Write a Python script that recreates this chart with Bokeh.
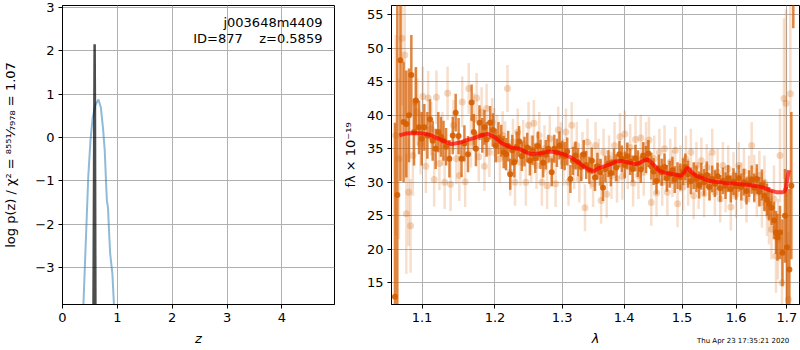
import numpy as np
from bokeh.plotting import figure
from bokeh.layouts import row, column
from bokeh.models import ColumnDataSource, FixedTicker, PrintfTickFormatter, Label, Range1d, Div
from bokeh.embed import file_html
from bokeh.resources import INLINE

FONT = "DejaVu Sans"

# ---------------- left panel: log p(z) ----------------
z_ticks = [0, 1, 2, 3, 4]
logp_ticks = [-3, -2, -1, 0, 1, 2, 3]

z_coarse = [0.38, 0.41, 0.44, 0.47, 0.51, 0.55, 0.60, 0.655, 0.70, 0.74, 0.77, 0.80, 0.81, 0.83, 0.85, 0.87, 0.91, 0.94]
logp_coarse = [-3.9, -2.9, -1.9, -0.9, -0.07, 0.45, 0.75, 0.875, 0.69, 0.2, -0.3, -1.2, -1.46, -1.62, -2.2, -2.68, -3.14, -3.9]

z_fine = [0.565, 0.580, 0.586, 0.592, 0.600]
logp_fine = [-3.9, 0.5, 2.15, 0.5, -3.9]

obj_name = "j003648m4409"
obj_info = "ID=877\u00a0\u00a0\u00a0\u00a0z=0.5859"

# ---------------- right panel: spectrum ----------------
lam_ticks = [1.1, 1.2, 1.3, 1.4, 1.5, 1.6, 1.7]
flux_ticks = [15, 20, 25, 30, 35, 40, 45, 50, 55]

wave_a = [1.065, 1.068, 1.072, 1.076, 1.0795, 1.083, 1.086, 1.0895, 1.092, 1.096, 1.0995, 1.103, 1.107, 1.1105,
          1.114, 1.118, 1.1215, 1.125, 1.1285, 1.132, 1.1365, 1.141, 1.145, 1.149, 1.153, 1.157, 1.162, 1.167,
          1.170, 1.173, 1.178, 1.182, 1.185, 1.188, 1.193, 1.197, 1.201, 1.205, 1.209, 1.2125, 1.216, 1.219,
          1.222, 1.225, 1.228, 1.2315, 1.235, 1.239, 1.243, 1.247, 1.251, 1.255, 1.259, 1.263, 1.267, 1.271,
          1.275, 1.279, 1.284, 1.288, 1.292, 1.296, 1.300, 1.304, 1.308, 1.313, 1.317, 1.321, 1.325, 1.330,
          1.334, 1.338, 1.343, 1.347, 1.352, 1.356, 1.361, 1.365, 1.369, 1.374, 1.378, 1.383, 1.387, 1.392,
          1.396, 1.401, 1.405, 1.410, 1.414, 1.419, 1.423, 1.428, 1.432, 1.437, 1.441, 1.446, 1.450, 1.455,
          1.459, 1.464, 1.469, 1.473, 1.478, 1.483, 1.487, 1.492, 1.497, 1.502, 1.506, 1.511, 1.516, 1.521,
          1.526, 1.531, 1.535, 1.540, 1.545, 1.550, 1.555, 1.560, 1.565, 1.570, 1.575, 1.580, 1.585, 1.590,
          1.595, 1.600, 1.605, 1.610, 1.615, 1.620, 1.625, 1.630, 1.635, 1.640, 1.645, 1.650, 1.655, 1.660,
          1.664, 1.669, 1.674, 1.678, 1.681, 1.686, 1.691, 1.696, 1.700, 1.705, 1.709, 1.713]
flux_a = [12.9, 28.1, 48.2, 39.0, 38.7, 40.0, 46.0, 37.5, 42.2, 38.2, 36.5, 38.2, 37.0, 39.4,
          36.2, 35.0, 37.5, 36.8, 36.2, 35.3, 33.5, 37.0, 40.4, 36.9, 33.5, 35.8, 34.2, 41.9,
          37.5, 35.0, 38.9, 37.0, 38.2, 36.4, 38.9, 37.8, 35.5, 36.6, 36.2, 34.5, 34.2, 35.4,
          31.2, 34.8, 33.0, 35.3, 36.1, 33.9, 34.6, 35.2, 33.2, 34.8, 33.6, 35.4, 34.2, 32.9,
          34.1, 35.0, 31.5, 35.0, 34.4, 35.5, 34.1, 33.9, 34.6, 30.5, 33.2, 34.0, 33.0, 32.3,
          34.2, 32.6, 31.8, 33.2, 30.7, 32.4, 31.5, 29.2, 32.0, 32.8, 31.4, 33.0, 32.2, 34.2,
          33.5, 32.6, 33.9, 33.1, 32.0, 33.6, 32.8, 31.9, 34.0, 33.4, 34.3, 32.4, 31.6, 30.2,
          32.1, 31.5, 32.3, 30.6, 31.2, 31.8, 30.4, 31.0, 30.8, 31.6, 32.3, 31.2, 30.2, 31.0,
          30.5, 29.6, 30.9, 30.0, 31.1, 29.3, 30.5, 29.8, 30.9, 29.1, 30.2, 29.5, 30.6, 29.0,
          30.1, 29.4, 30.6, 29.3, 30.0, 28.7, 29.8, 30.4, 29.2, 30.5, 28.6, 29.6, 28.0, 27.4,
          26.8, 26.2, 24.3, 22.5, 21.8, 22.5, 19.5, 25.0, 20.3, 17.0, 29.5, 70.0]
err_a = [26, 30, 18, 9, 8, 7, 6, 5, 5, 4, 4, 3.5, 3.5, 3,
         3, 3, 3, 3, 3, 2.8, 2.8, 2.8, 2.8, 2.7, 2.7, 2.7, 2.7, 2.7,
         2.7, 2.6, 2.6, 2.6, 2.6, 2.6, 2.5, 2.5, 2.5, 2.4, 2.4, 2.4, 2.4, 2.3,
         2.3, 2.3, 2.3, 2.3, 2.3, 2.2, 2.2, 2.2, 2.2, 2.2, 2.2, 2.2, 2.2, 2.2,
         2.2, 2.1, 2.1, 2.1, 2.1, 2.1, 2.1, 2.1, 2.1, 2.1, 2.1, 2.1, 2.1, 2.1,
         2.1, 2.1, 2.0, 2.0, 2.0, 2.0, 2.0, 2.0, 2.0, 2.0, 2.0, 2.0, 2.0, 2.0,
         2.0, 2.0, 2.0, 2.0, 2.0, 2.0, 2.0, 2.0, 2.0, 2.0, 2.0, 2.0, 2.0, 2.0,
         2.0, 2.0, 2.0, 2.0, 2.0, 2.0, 2.0, 2.0, 2.0, 2.0, 2.0, 2.0, 2.0, 2.0,
         2.0, 2.0, 2.0, 2.0, 2.0, 2.0, 2.0, 2.0, 2.0, 2.0, 2.0, 2.0, 2.0, 2.0,
         2.0, 2.0, 2.0, 2.0, 2.0, 2.0, 2.0, 2.1, 2.1, 2.2, 2.2, 2.3, 2.3, 2.4,
         2.5, 2.6, 2.8, 3.2, 3.5, 4, 5, 7, 9, 12, 11, 17]

wave_b = [1.066, 1.070, 1.074, 1.0775, 1.0795, 1.0825, 1.085, 1.088, 1.091, 1.094, 1.098, 1.101, 1.105, 1.108,
          1.112, 1.116, 1.119, 1.123, 1.127, 1.130, 1.134, 1.138, 1.142, 1.146, 1.150, 1.154, 1.158, 1.163,
          1.166, 1.170, 1.174, 1.177, 1.181, 1.185, 1.188, 1.192, 1.196, 1.199, 1.203, 1.207, 1.211, 1.2145,
          1.218, 1.222, 1.226, 1.229, 1.233, 1.237, 1.241, 1.245, 1.249, 1.253, 1.257, 1.261, 1.265, 1.269,
          1.273, 1.277, 1.281, 1.285, 1.290, 1.294, 1.298, 1.302, 1.306, 1.310, 1.315, 1.319, 1.323, 1.327,
          1.332, 1.336, 1.340, 1.345, 1.349, 1.353, 1.358, 1.362, 1.366, 1.371, 1.375, 1.379, 1.384, 1.388,
          1.393, 1.397, 1.401, 1.406, 1.410, 1.415, 1.419, 1.424, 1.428, 1.433, 1.437, 1.442, 1.446, 1.451,
          1.455, 1.460, 1.465, 1.469, 1.474, 1.479, 1.483, 1.488, 1.492, 1.497, 1.502, 1.507, 1.511, 1.516,
          1.521, 1.526, 1.530, 1.535, 1.540, 1.545, 1.550, 1.555, 1.560, 1.565, 1.570, 1.575, 1.580, 1.585,
          1.590, 1.595, 1.600, 1.605, 1.610, 1.615, 1.620, 1.625, 1.630, 1.635, 1.640, 1.645, 1.650, 1.655,
          1.660, 1.664, 1.669, 1.674, 1.678, 1.682, 1.686, 1.690, 1.694, 1.698, 1.703, 1.707]
flux_b = [37.0, 33.5, 51.5, 49.0, 25.3, 28.5, 23.5, 34.0, 42.0, 40.5, 35.7, 42.8, 32.4, 42.6,
          38.0, 30.4, 42.7, 32.8, 36.5, 30.0, 43.3, 29.7, 38.5, 33.5, 31.0, 42.0, 30.1, 44.0,
          36.0, 39.5, 42.6, 33.8, 40.5, 32.4, 41.0, 34.5, 39.0, 37.5, 36.5, 33.5, 37.0, 35.5,
          44.0, 31.5, 36.0, 30.0, 37.5, 33.0, 35.8, 30.0, 38.5, 33.5, 38.8, 32.5, 37.0, 30.0,
          35.0, 29.5, 36.5, 33.5, 29.8, 37.8, 35.5, 33.0, 37.5, 30.0, 38.5, 32.5, 35.5, 30.5,
          34.0, 26.2, 36.0, 32.5, 29.8, 35.5, 33.0, 27.3, 34.5, 28.2, 33.5, 31.0, 35.5, 30.5,
          36.8, 30.9, 37.2, 32.5, 35.2, 29.9, 36.4, 31.0, 36.6, 31.5, 35.5, 36.3, 27.0, 33.5,
          28.4, 34.5, 30.0, 35.0, 28.5, 33.0, 31.3, 34.8, 26.8, 32.0, 29.3, 33.5, 30.0, 34.5,
          28.0, 32.5, 29.5, 33.2, 28.3, 32.2, 30.8, 34.5, 28.5, 31.5, 27.5, 32.5, 29.0, 32.0,
          26.3, 31.0, 28.2, 32.5, 29.5, 31.6, 27.5, 30.5, 35.5, 30.5, 28.5, 31.0, 27.0, 30.0,
          26.0, 25.0, 23.0, 27.5, 19.0, 21.5, 34.0, 15.0, 42.5, 41.8, 12.5, 43.2]
err_b = [15, 12, 10, 9, 9, 8, 7, 6, 5, 5, 4.5, 4.5, 4, 4,
         4, 4, 4, 4, 4, 4, 4, 4, 3.8, 3.8, 3.8, 3.8, 3.8, 3.8,
         3.8, 3.8, 3.7, 3.7, 3.7, 3.7, 3.7, 3.7, 3.6, 3.6, 3.6, 3.6, 3.6, 3.6,
         3.5, 3.5, 3.5, 3.5, 3.5, 3.5, 3.5, 3.5, 3.5, 3.5, 3.5, 3.5, 3.5, 3.5,
         3.5, 3.5, 3.5, 3.5, 3.5, 3.5, 3.5, 3.5, 3.5, 3.5, 3.5, 3.5, 3.5, 3.5,
         3.5, 3.5, 3.5, 3.5, 3.5, 3.5, 3.5, 3.5, 3.5, 3.5, 3.5, 3.5, 3.5, 3.5,
         3.5, 3.5, 3.5, 3.5, 3.5, 3.5, 3.5, 3.5, 3.5, 3.5, 3.5, 3.5, 3.5, 3.5,
         3.5, 3.5, 3.5, 3.5, 3.5, 3.5, 3.5, 3.5, 3.5, 3.5, 3.5, 3.5, 3.5, 3.5,
         3.5, 3.5, 3.5, 3.5, 3.5, 3.5, 3.5, 3.5, 3.5, 3.5, 3.5, 3.5, 3.5, 3.5,
         3.5, 3.5, 3.5, 3.5, 3.5, 3.5, 3.5, 3.5, 3.5, 3.6, 3.6, 3.7, 3.8, 4,
         4, 4.3, 4.5, 5, 5.5, 6, 7, 8, 12, 14, 10, 15]

wave_model = [1.0706, 1.08, 1.09, 1.10, 1.11, 1.12, 1.13, 1.139, 1.15, 1.16, 1.17, 1.18, 1.19, 1.20, 1.21,
              1.223, 1.235, 1.245, 1.253, 1.265, 1.28, 1.293, 1.305, 1.314, 1.325, 1.335, 1.345, 1.351, 1.358,
              1.368, 1.378, 1.386, 1.395, 1.405, 1.418, 1.426, 1.434, 1.44, 1.447, 1.46, 1.472, 1.484, 1.498,
              1.504, 1.5095, 1.515, 1.525, 1.55, 1.575, 1.60, 1.625, 1.64, 1.653, 1.666, 1.680, 1.690, 1.695,
              1.698, 1.700, 1.702, 1.704]
flux_model = [37.0, 37.3, 37.35, 37.3, 37.1, 36.6, 36.1, 35.7, 35.9, 36.3, 36.6, 37.0, 37.2, 36.7, 35.8,
              35.2, 35.0, 34.5, 34.2, 34.3, 34.6, 34.45, 34.1, 33.7, 33.0, 32.3, 31.8, 31.7, 32.1,
              32.4, 32.7, 33.1, 33.2, 33.0, 32.7, 32.9, 33.3, 33.4, 32.9, 31.7, 31.4, 31.2, 30.97,
              31.5, 32.2, 31.7, 31.0, 30.2, 29.95, 29.8, 29.6, 29.4, 29.2, 28.8, 28.5, 28.5, 28.6,
              29.2, 30.2, 31.0, 31.8]

timestamp = "Thu Apr 23 17:35:21 2020"

ORANGE = "#d55e00"

def style(p):
    p.outline_line_color = "black"
    p.outline_line_alpha = 1.0
    p.outline_line_width = 1
    for ax in (p.xaxis[0], p.yaxis[0]):
        ax.axis_line_color = "black"
        ax.major_tick_out = 4
        ax.major_tick_in = 0
        ax.minor_tick_out = 0
        ax.minor_tick_in = 0
        ax.major_tick_line_color = "black"
        ax.major_label_text_font = FONT
        ax.major_label_text_font_size = "13px"
        ax.major_label_text_color = "black"
        ax.axis_label_text_font = FONT
        ax.axis_label_text_font_size = "13px"
        ax.axis_label_text_color = "black"
        ax.major_label_standoff = 4
    p.grid.grid_line_color = "#b0b0b0"
    p.grid.grid_line_width = 1
    p.background_fill_color = "white"
    p.border_fill_color = "white"

# left figure
p1 = figure(width=336, height=350, output_backend="svg", toolbar_location=None,
            x_range=Range1d(0, 4.96), y_range=Range1d(-3.846, 3.04),
            min_border_left=62, min_border_right=2, min_border_top=5, min_border_bottom=46)
style(p1)
p1.xaxis.ticker = FixedTicker(ticks=z_ticks)
p1.yaxis.ticker = FixedTicker(ticks=logp_ticks)
p1.yaxis.major_label_overrides = {t: ("\u2212%d" % -t if t < 0 else str(t)) for t in logp_ticks}
p1.xaxis.axis_label = "z"
p1.xaxis.axis_label_text_font_style = "italic"
p1.xaxis.axis_label_standoff = 6
p1.yaxis.axis_label = "log p(z) / \u03c7\u00b2 = \u2078\u2075\u2075\u00b9\u2044\u2087\u2089\u2087\u2088 = 1.07"
p1.yaxis.axis_label_text_font_style = "normal"
p1.yaxis.axis_label_standoff = 14

p1.line(z_coarse, logp_coarse, line_color="#1f77b4", line_alpha=0.5, line_width=2)
p1.line(z_fine, logp_fine, line_color="black", line_alpha=0.7, line_width=2.5)

p1.add_layout(Label(x=4.74, y=2.65, text=obj_name, text_align="right", text_baseline="middle",
                    text_font=FONT, text_font_size="13px", text_color="black"))
p1.add_layout(Label(x=4.74, y=2.28, text=obj_info, text_align="right", text_baseline="middle",
                    text_font=FONT, text_font_size="13px", text_color="black"))

# right figure
p2 = figure(width=464, height=350, output_backend="svg", toolbar_location=None,
            x_axis_type="log", x_range=Range1d(1.0606, 1.7257), y_range=Range1d(11.76, 56.39),
            min_border_left=55, min_border_right=1, min_border_top=5, min_border_bottom=46)
style(p2)
p2.xaxis.ticker = FixedTicker(ticks=lam_ticks, minor_ticks=[])
p2.xaxis.formatter = PrintfTickFormatter(format="%.1f")
p2.yaxis.ticker = FixedTicker(ticks=flux_ticks)
p2.xaxis.axis_label = "\u03bb"
p2.xaxis.axis_label_text_font_style = "italic"
p2.xaxis.axis_label_standoff = 6
p2.yaxis.axis_label = "f\u03bb \u00d7 10\u207b\u00b9\u2079"
p2.yaxis.axis_label_text_font_style = "normal"
p2.yaxis.axis_label_standoff = 6

wa = np.array(wave_a); fa = np.array(flux_a); ea = np.array(err_a)
wb = np.array(wave_b); fb = np.array(flux_b); eb = np.array(err_b)

src_b = ColumnDataSource(dict(x=wb, y=fb, lo=fb - eb, hi=fb + eb))
src_a = ColumnDataSource(dict(x=wa, y=fa, lo=fa - ea, hi=fa + ea))

p2.segment(x0="x", y0="lo", x1="x", y1="hi", source=src_b, line_color=ORANGE, line_alpha=0.2, line_width=2.5)
p2.scatter("x", "y", source=src_b, size=7, fill_color=ORANGE, fill_alpha=0.25, line_color=None)
p2.segment(x0="x", y0="lo", x1="x", y1="hi", source=src_a, line_color=ORANGE, line_alpha=0.75, line_width=2.5)
p2.scatter("x", "y", source=src_a, size=6, fill_color=ORANGE, fill_alpha=0.9, line_color=None)
p2.line(wave_model, flux_model, line_color="red", line_alpha=0.7, line_width=4)

stamp = Div(text=timestamp, width=100, height=10, margin=(-14, 0, 0, 697),
            styles={"font-family": FONT, "font-size": "7px", "line-height": "10px",
                    "color": "black", "white-space": "nowrap"})

layout = column(row(p1, p2), stamp)
open("out.html", "w").write(file_html(layout, INLINE))
